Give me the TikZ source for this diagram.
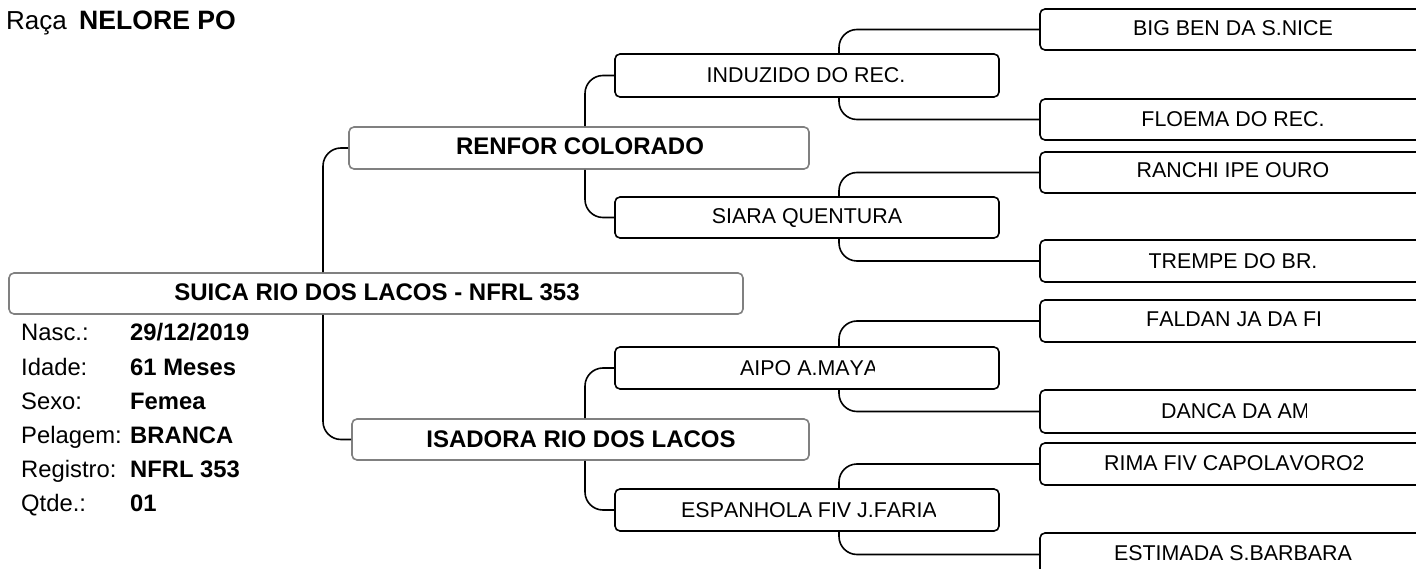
\documentclass[tikz,border=0pt]{standalone}
\usepackage{fontspec}
\setmainfont[Kerning=Off]{Liberation Sans}
\definecolor{edgegray}{HTML}{808080}
\newcommand{\bx}[6]{\node[#6,minimum width={(#4-#2)*1pt},minimum height={(#5-#3)*1pt}] (#1) at ({(#2+#4)/2},{(#3+#5)/2}) {};}
\newcommand{\lb}[4]{\node[#4] (#1) at (#2) {#3};}
\newcommand{\clb}[5]{\begin{scope}\clip (#2,0) rectangle (#3,569);\node[txt,anchor=west] (#1) at (#4) {#5};\end{scope}}
\tikzset{
 x=1pt,y=-1pt,
 boxbase/.style={draw,fill=white,rectangle,rounded corners=5pt,inner sep=0pt,line width=1.6pt},
 graybox/.style={boxbase,draw=edgegray},
 blackbox/.style={boxbase,draw=black},
 conn/.style={draw=black,line width=1.6pt,rounded corners=18pt},
 txt/.style={font=\fontsize{21.4}{22}\selectfont,inner sep=0pt,anchor=center,text=black},
 btxt/.style={font=\fontsize{24}{24}\selectfont\bfseries,inner sep=0pt,anchor=center,text=black},
 infol/.style={font=\fontsize{23.8}{24}\selectfont,inner sep=0pt,anchor=base west},
 infov/.style={font=\fontsize{23.8}{24}\selectfont\bfseries,inner sep=0pt,anchor=base west},
}
\begin{document}
\begin{tikzpicture}
\clip (0,0) rectangle (1416,569);
\fill[white] (0,0) rectangle (1416,569);
% branch x positions
\coordinate (bA) at (323,0);
\coordinate (bB) at (585,0);
\coordinate (bC) at (839,0);
% boxes
\bx{root}{9}{273}{743}{314}{graybox}
\bx{renfor}{349}{127}{809}{169}{graybox}
\bx{isadora}{352}{419}{809}{460}{graybox}
\bx{induzido}{615}{54}{999}{97}{blackbox}
\bx{siara}{615}{197}{999}{238}{blackbox}
\bx{aipo}{615}{347}{999}{389}{blackbox}
\bx{espanhola}{615}{489}{999}{531}{blackbox}
\bx{bigben}{1040}{9}{1426}{50}{blackbox}
\bx{floema}{1040}{99}{1426}{140}{blackbox}
\bx{ranchi}{1040}{152}{1426}{193}{blackbox}
\bx{trempe}{1040}{240}{1426}{282}{blackbox}
\bx{faldan}{1040}{300}{1426}{342}{blackbox}
\bx{danca}{1040}{390}{1426}{433}{blackbox}
\bx{rima}{1040}{443}{1426}{485}{blackbox}
\bx{estimada}{1040}{533}{1426}{576}{blackbox}
% connectors
\draw[conn] (renfor.west) -| (bA |- root.north);
\draw[conn] (isadora.west) -| (bA |- root.south);
\draw[conn] (induzido.west) -| (bB |- renfor.north);
\draw[conn] (siara.west) -| (bB |- renfor.south);
\draw[conn] (aipo.west) -| (bB |- isadora.north);
\draw[conn] (espanhola.west) -| (bB |- isadora.south);
\draw[conn] (bigben.west) -| (bC |- induzido.north);
\draw[conn] (floema.west) -| (bC |- induzido.south);
\draw[conn] (ranchi.west) -| (bC |- siara.north);
\draw[conn] (trempe.west) -| (bC |- siara.south);
\draw[conn] (faldan.west) -| (bC |- aipo.north);
\draw[conn] (danca.west) -| (bC |- aipo.south);
\draw[conn] (rima.west) -| (bC |- espanhola.north);
\draw[conn] (estimada.west) -| (bC |- espanhola.south);
% labels
\lb{troot}{377,292}{SUICA RIO DOS LACOS - NFRL 353}{btxt}
\lb{trenfor}{580,146}{RENFOR COLORADO}{btxt}
\lb{tisadora}{581,439}{ISADORA RIO DOS LACOS}{btxt}
\lb{tinduzido}{806,75}{INDUZIDO DO REC.}{txt}
\lb{tsiara}{807,218}{SIARA QUENTURA}{txt}
\clb{taipo}{700}{874}{740,368}{AIPO A.MAYA}
\clb{tespanhola}{650}{935}{681,510}{ESPANHOLA FIV J.FARIA}
\lb{tbigben}{1233,28}{BIG BEN DA S.NICE}{txt}
\lb{tfloema}{1233,119}{FLOEMA DO REC.}{txt}
\lb{tranchi}{1233,170}{RANCHI IPE OURO}{txt}
\lb{ttrempe}{1233,261}{TREMPE DO BR.}{txt}
\clb{tfaldan}{1100}{1320}{1146,319}{FALDAN JA DA FI}
\clb{tdanca}{1100}{1306}{1161,411}{DANCA DA AM}
\clb{trima}{1080}{1362}{1104,463}{RIMA FIV CAPOLAVORO2}
\lb{testimada}{1233,553}{ESTIMADA S.BARBARA}{txt}
\node[infol,font=\fontsize{26}{26}\selectfont] (raca) at (6,30) {Raça};
\node[infov,font=\fontsize{26.6}{26}\selectfont\bfseries] (nelore) at (79,30) {NELORE PO};
\lb{l1}{21,341}{Nasc.:}{infol}\lb{v1}{130,341}{29/12/2019}{infov}
\lb{l2}{21,375}{Idade:}{infol}\lb{v2}{130,375}{61 Meses}{infov}
\lb{l3}{21,409}{Sexo:}{infol}\lb{v3}{130,409}{Femea}{infov}
\lb{l4}{21,443}{Pelagem:}{infol}\lb{v4}{130,443}{BRANCA}{infov}
\lb{l5}{21,477}{Registro:}{infol}\lb{v5}{130,477}{NFRL 353}{infov}
\lb{l6}{21,511}{Qtde.:}{infol}\lb{v6}{130,511}{01}{infov}
\end{tikzpicture}
\end{document}
